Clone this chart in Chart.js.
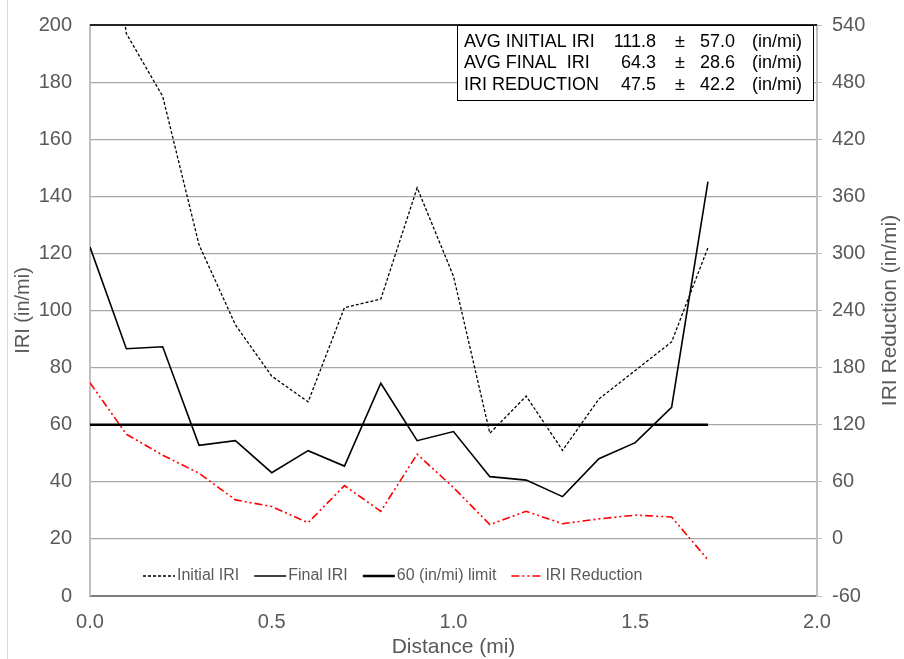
<!DOCTYPE html>
<html>
<head>
<meta charset="utf-8">
<script src="https://cdn.jsdelivr.net/npm/chart.js@4.4.1/dist/chart.umd.min.js"></script>
<style>
  html, body { margin: 0; padding: 0; background: #fff; }
  #wrap { width: 904px; height: 659px; position: relative; }
</style>
</head>
<body>
<div id="wrap"><canvas id="c" width="904" height="659"></canvas></div>
<script>
// ---- data ----
const distance     = [0.0, 0.1, 0.2, 0.3, 0.4, 0.5, 0.6, 0.7, 0.8, 0.9, 1.0, 1.1, 1.2, 1.3, 1.4, 1.5, 1.6, 1.7];
const initialIRI   = [286, 197, 175, 123, 95, 77, 68, 101, 104, 143, 112, 57, 70, 51, 69, 79, 89, 122];
const finalIRI     = [122.2, 86.6, 87.3, 52.8, 54.4, 43.2, 50.9, 45.5, 74.5, 54.4, 57.6, 41.8, 40.6, 34.8, 48.1, 53.7, 66.1, 145.1];
const iriReduction = [164, 110, 88, 69, 41, 34, 17, 56, 29, 89, 54, 15, 29, 16, 21, 25, 23, -22];
const limitIRI     = 60;

const seriesNames  = ["Initial IRI", "Final IRI", "60 (in/mi) limit", "IRI Reduction"];
const statLabels   = ["AVG INITIAL IRI", "AVG FINAL  IRI", "IRI REDUCTION"];
const statMeans    = ["111.8", "64.3", "47.5"];
const statSDs      = ["57.0", "28.6", "42.2"];
const statUnit     = "(in/mi)";

const axisTitles = { x: "Distance (mi)", y: "IRI (in/mi)", y2: "IRI Reduction (in/mi)" };

// ---- helpers ----
const FONT = "'Liberation Sans', Arial, sans-serif";
const GREY_TXT = '#595959';
const toXY = (ys) => ys.map((v, i) => ({ x: distance[i], y: v }));
const limitLine = [{ x: distance[0], y: limitIRI }, { x: distance[distance.length - 1], y: limitIRI }];

const styles = [
  { color: '#000000', width: 1.3, dash: [3, 2] },
  { color: '#000000', width: 1.6, dash: [] },
  { color: '#000000', width: 2.6, dash: [] },
  { color: '#ff0000', width: 1.6, dash: [8, 3, 2, 3, 2, 3] }
];

const noPad = s => { s.paddingTop = 0; s.paddingBottom = 0; s.paddingLeft = 0; s.paddingRight = 0; };

const decor = {
  id: 'decor',
  beforeDraw(chart) {
    const ctx = chart.ctx;
    ctx.save();
    ctx.fillStyle = '#fff';
    ctx.fillRect(0, 0, chart.width, chart.height);
    ctx.strokeStyle = '#d9d9d9';
    ctx.lineWidth = 1;
    ctx.beginPath(); ctx.moveTo(7.5, 0); ctx.lineTo(7.5, chart.height); ctx.stroke();
    ctx.restore();
  },
  afterDraw(chart) {
    const ctx = chart.ctx;
    const a = chart.chartArea;
    ctx.save();
    // top border
    ctx.strokeStyle = '#262626';
    ctx.lineWidth = 2;
    ctx.beginPath(); ctx.moveTo(a.left, a.top); ctx.lineTo(a.right, a.top); ctx.stroke();

    // statistics box
    const bx = 457, by = a.top, bw = 356, bh = 75;
    ctx.fillStyle = '#fff';
    ctx.fillRect(bx, by, bw, bh);
    ctx.strokeStyle = '#000';
    ctx.lineWidth = 1;
    ctx.strokeRect(bx + 0.5, by + 0.5, bw, bh);
    ctx.fillStyle = '#000';
    ctx.font = '18px ' + FONT;
    ctx.textBaseline = 'middle';
    for (let i = 0; i < statLabels.length; i++) {
      const y = by + 17 + i * 21.5;
      ctx.textAlign = 'left';  ctx.fillText(statLabels[i], 464, y);
      ctx.textAlign = 'right'; ctx.fillText(statMeans[i], 656, y);
      ctx.textAlign = 'center'; ctx.fillText('±', 680, y);
      ctx.textAlign = 'right'; ctx.fillText(statSDs[i], 735, y);
      ctx.textAlign = 'left';  ctx.fillText(statUnit, 752, y);
    }

    // legend inside plot
    ctx.font = '16px ' + FONT;
    ctx.textBaseline = 'middle';
    ctx.textAlign = 'left';
    let x = a.left + 53;
    const ly = 576;
    for (let i = 0; i < seriesNames.length; i++) {
      const s = styles[i];
      ctx.strokeStyle = s.color;
      ctx.lineWidth = s.width;
      ctx.setLineDash(s.dash);
      ctx.beginPath(); ctx.moveTo(x, ly); ctx.lineTo(x + 32, ly); ctx.stroke();
      ctx.setLineDash([]);
      ctx.fillStyle = GREY_TXT;
      ctx.fillText(seriesNames[i], x + 34, ly);
      x += 34 + ctx.measureText(seriesNames[i]).width + 15;
    }

    // right axis title (reads bottom to top)
    ctx.save();
    ctx.translate(890, (a.top + a.bottom) / 2);
    ctx.rotate(-Math.PI / 2);
    ctx.font = '21px ' + FONT;
    ctx.fillStyle = GREY_TXT;
    ctx.textAlign = 'center';
    ctx.textBaseline = 'middle';
    ctx.fillText(axisTitles.y2, 0, 0);
    ctx.restore();

    ctx.restore();
  }
};

new Chart(document.getElementById('c'), {
  type: 'line',
  data: {
    datasets: [
      { label: seriesNames[0], data: toXY(initialIRI), yAxisID: 'y', borderColor: styles[0].color, borderWidth: styles[0].width, borderDash: styles[0].dash },
      { label: seriesNames[1], data: toXY(finalIRI), yAxisID: 'y', borderColor: styles[1].color, borderWidth: styles[1].width, borderDash: styles[1].dash },
      { label: seriesNames[2], data: limitLine, yAxisID: 'y', borderColor: styles[2].color, borderWidth: styles[2].width, borderDash: styles[2].dash },
      { label: seriesNames[3], data: toXY(iriReduction), yAxisID: 'y2', borderColor: styles[3].color, borderWidth: styles[3].width, borderDash: styles[3].dash }
    ]
  },
  options: {
    responsive: false,
    animation: false,
    devicePixelRatio: 1,
    layout: { padding: { top: 25, left: 0, right: 0, bottom: 0 } },
    elements: { point: { radius: 0 }, line: { tension: 0, fill: false } },
    plugins: { legend: { display: false }, tooltip: { enabled: false } },
    scales: {
      x: {
        type: 'linear', min: 0, max: 2,
        grid: { display: false, drawTicks: false },
        border: { display: true, color: '#7f7f7f', width: 2 },
        ticks: { stepSize: 0.5, padding: 14, color: GREY_TXT, font: { family: FONT, size: 20 }, callback: v => v.toFixed(1) },
        title: { display: true, text: axisTitles.x, color: GREY_TXT, font: { family: FONT, size: 21, lineHeight: 1.1 }, padding: { top: 0, bottom: 0 } },
        afterFit: s => { s.height = 63; noPad(s); }
      },
      y: {
        position: 'left', min: 0, max: 200,
        grid: { color: '#a6a6a6', lineWidth: 1.2, drawTicks: false },
        border: { display: true, color: '#bfbfbf', width: 2 },
        ticks: { stepSize: 20, padding: 18, color: GREY_TXT, font: { family: FONT, size: 20 } },
        title: { display: true, text: axisTitles.y, color: GREY_TXT, font: { family: FONT, size: 20 }, padding: { top: 11, bottom: 0 } },
        afterFit: s => { s.width = 90; noPad(s); }
      },
      y2: {
        position: 'right', min: -60, max: 540,
        grid: { drawOnChartArea: false, drawTicks: true, tickLength: 5, color: '#bfbfbf' },
        border: { display: true, color: '#bfbfbf', width: 2 },
        ticks: { stepSize: 60, padding: 10, color: GREY_TXT, font: { family: FONT, size: 20 } },
        afterFit: s => { s.width = 87; noPad(s); }
      }
    }
  },
  plugins: [decor]
});
</script>
</body>
</html>
